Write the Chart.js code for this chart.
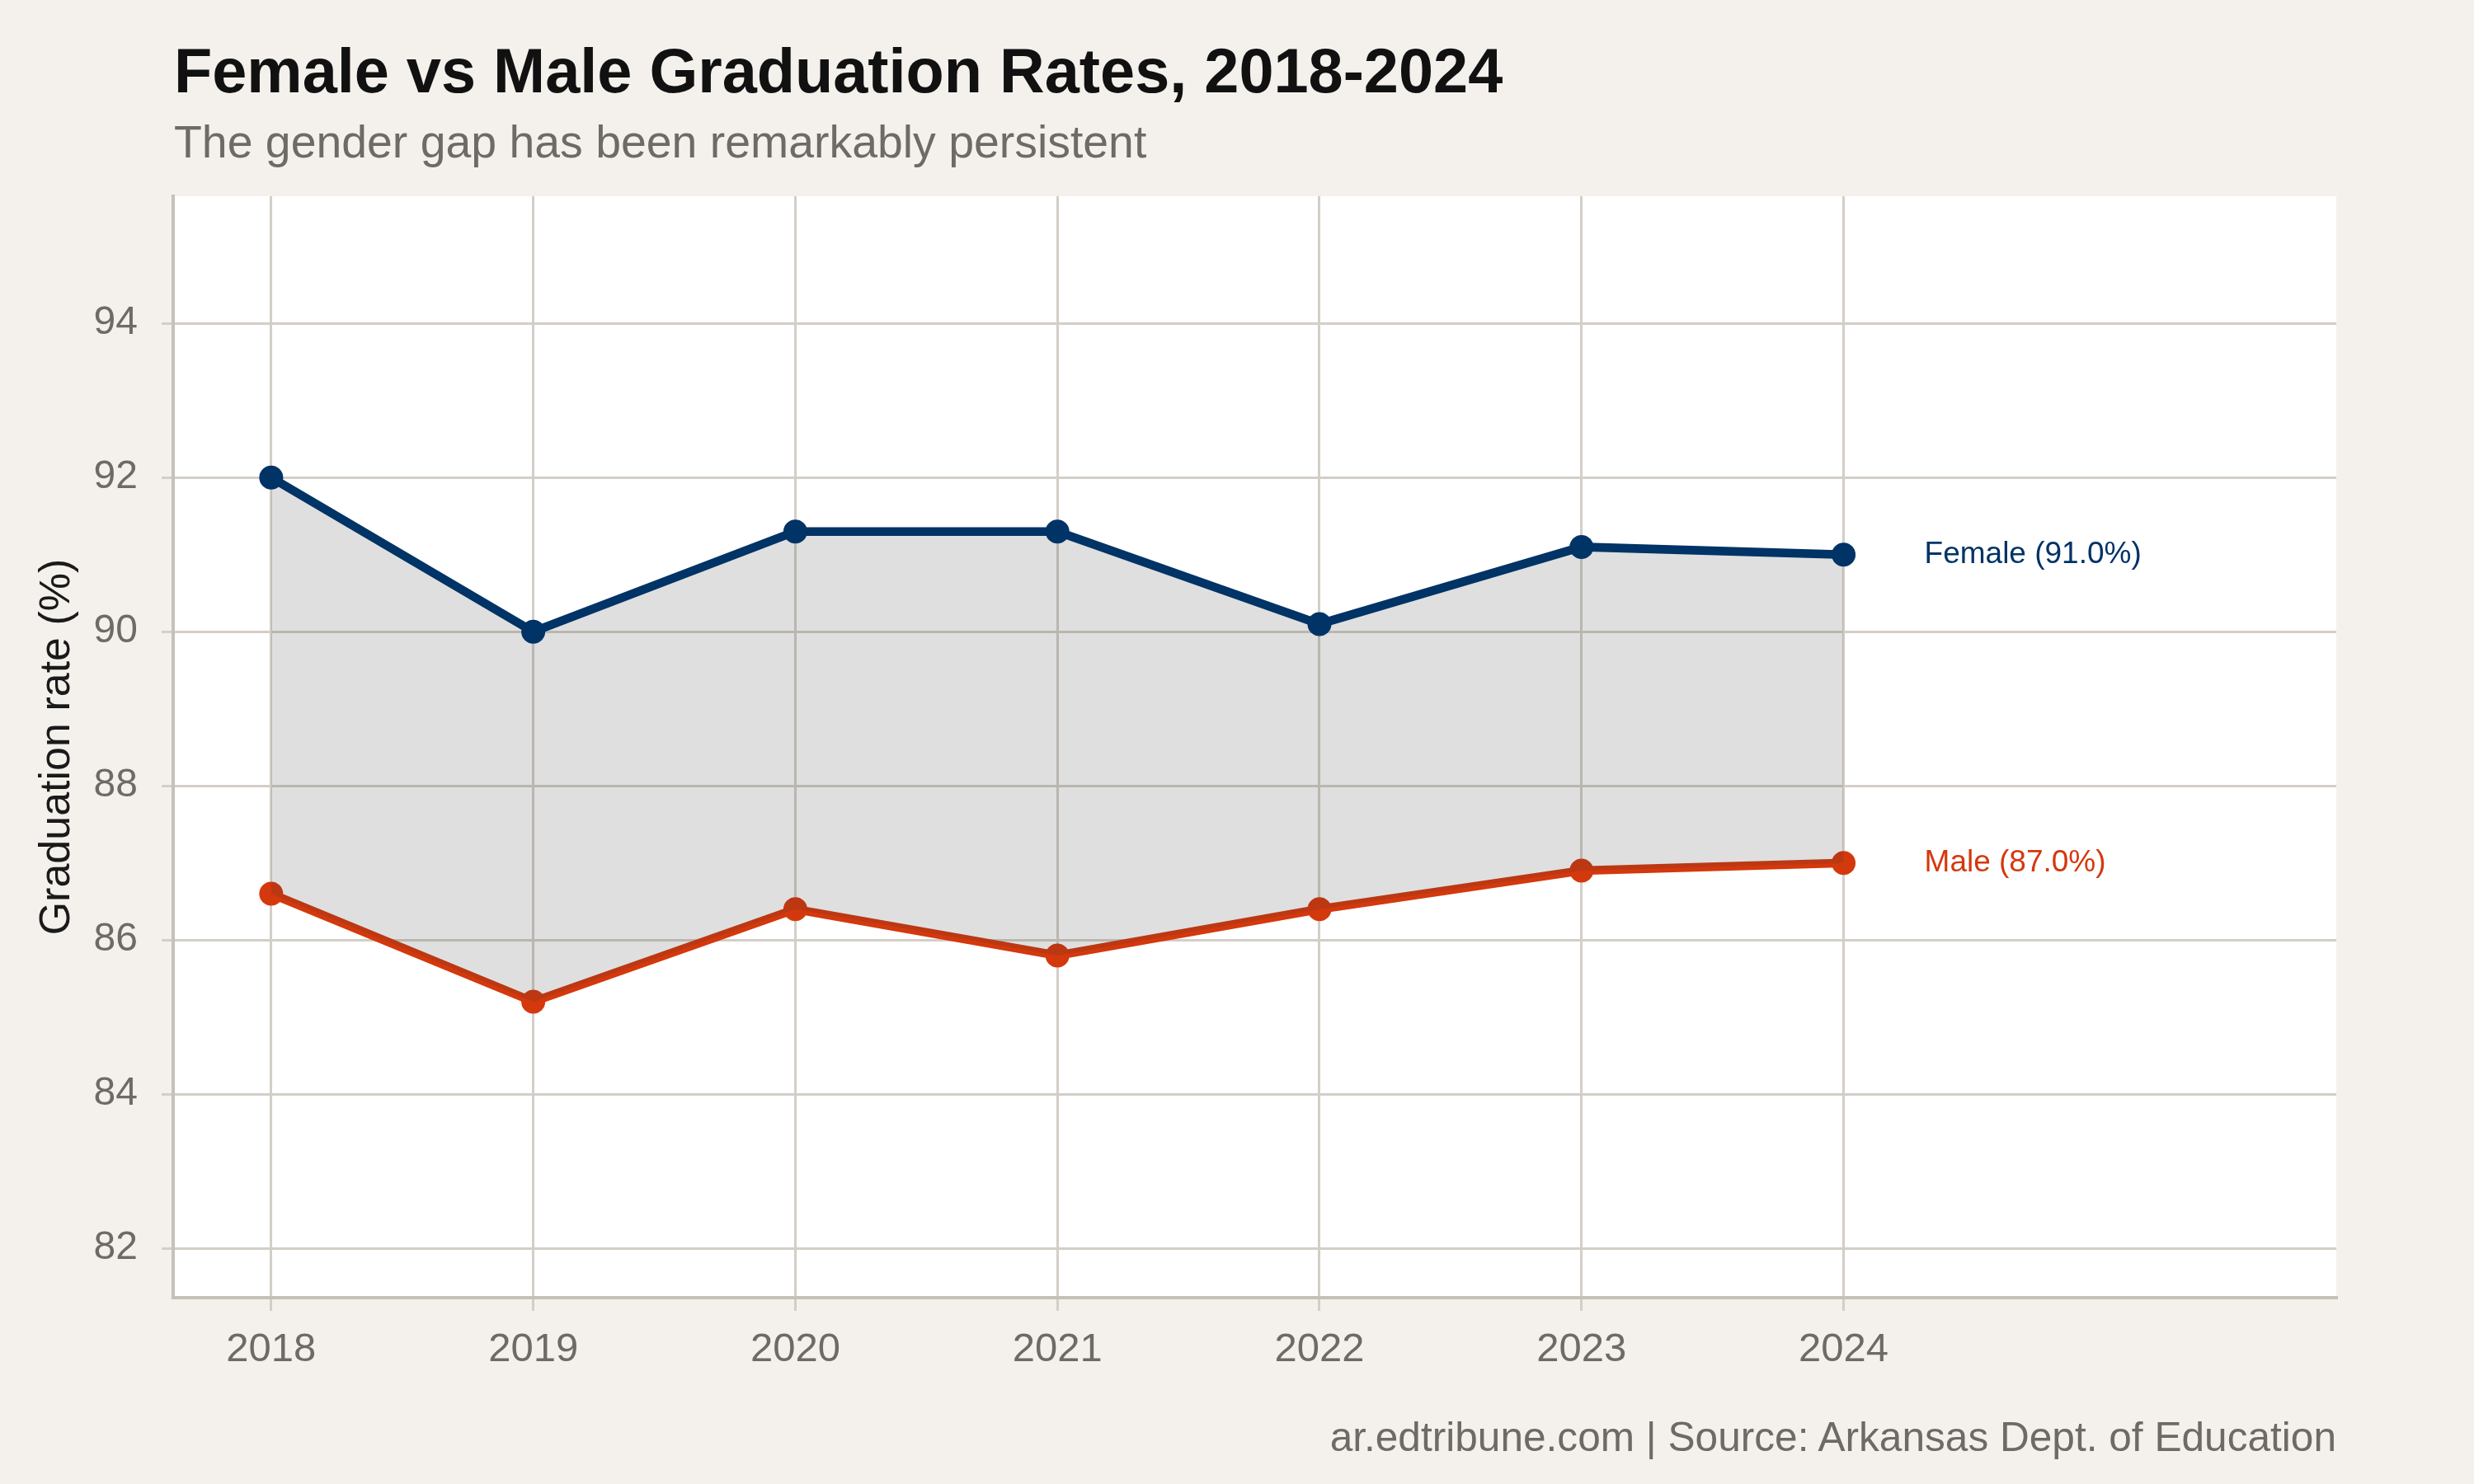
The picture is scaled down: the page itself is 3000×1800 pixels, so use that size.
<!DOCTYPE html>
<html>
<head>
<meta charset="utf-8">
<script src="https://cdn.jsdelivr.net/npm/chart.js@4.4.1/dist/chart.umd.min.js"></script>
<style>
  html, body { margin: 0; padding: 0; background: #F4F1EC; }
  body { width: 3000px; height: 1800px; position: relative; overflow: hidden; font-family: "Liberation Sans", Arial, sans-serif; }
  #chart { position: absolute; left: 0; top: 0; }
  .txt { position: absolute; line-height: 1; white-space: nowrap; }
  #title { left: 211px; top: 48px; font-size: 75.7px; font-weight: bold; color: #111; }
  #subtitle { left: 211px; top: 145px; font-size: 55.4px; color: #6E6A65; }
  #caption { right: 167px; top: 1719px; font-size: 49.6px; color: #6E6A65; }
</style>
</head>
<body>
<div id="title" class="txt">Female vs Male Graduation Rates, 2018-2024</div>
<div id="subtitle" class="txt">The gender gap has been remarkably persistent</div>
<canvas id="chart" width="3000" height="1800"></canvas>
<div id="caption" class="txt">ar.edtribune.com | Source: Arkansas Dept. of Education</div>
<script>
const years = [2018, 2019, 2020, 2021, 2022, 2023, 2024];
const femaleRates = [92.0, 90.0, 91.3, 91.3, 90.1, 91.1, 91.0];
const maleRates = [86.6, 85.2, 86.4, 85.8, 86.4, 86.9, 87.0];
const yTicks = [82, 84, 86, 88, 90, 92, 94];

const FEMALE = '#003366';
const MALE = '#D4380D';
const GRID = '#D3CEC7';
const AXIS = '#C6C0B7';
const TICK_TEXT = '#6E6A65';

const toPoints = vals => vals.map((v, i) => ({ x: years[i], y: v }));

// white panel behind the plot area
const panelBg = {
    id: 'panelBg',
    beforeDraw(chart) {
        const { ctx, chartArea: a } = chart;
        ctx.save();
        ctx.fillStyle = '#ffffff';
        ctx.fillRect(a.left, a.top, a.right - a.left, a.bottom - a.top);
        ctx.restore();
    }
};

// direct labels right of the last point
const endLabels = {
    id: 'endLabels',
    afterDatasetsDraw(chart) {
        const { ctx } = chart;
        ctx.save();
        ctx.font = '37px "Liberation Sans", Arial, sans-serif';
        ctx.textBaseline = 'middle';
        ctx.textAlign = 'left';
        chart.data.datasets.forEach((ds, i) => {
            const meta = chart.getDatasetMeta(i);
            const last = meta.data[meta.data.length - 1];
            const v = ds.data[ds.data.length - 1].y;
            ctx.fillStyle = ds.borderColor;
            ctx.fillText(`${ds.label} (${v.toFixed(1)}%)`, last.x + 98, last.y);
        });
        ctx.restore();
    }
};

new Chart(document.getElementById('chart'), {
    type: 'line',
    data: {
        datasets: [
            {
                label: 'Female',
                data: toPoints(femaleRates),
                borderColor: FEMALE,
                backgroundColor: 'rgba(58,56,54,0.16)',
                pointBackgroundColor: FEMALE,
                fill: '+1',
                borderWidth: 10.5,
                pointRadius: 14.5,
                pointBorderWidth: 0,
                tension: 0
            },
            {
                label: 'Male',
                data: toPoints(maleRates),
                borderColor: MALE,
                pointBackgroundColor: MALE,
                fill: false,
                borderWidth: 10.5,
                pointRadius: 14.5,
                pointBorderWidth: 0,
                tension: 0
            }
        ]
    },
    options: {
        responsive: false,
        animation: false,
        devicePixelRatio: 1,
        layout: { padding: { top: 238, right: 167, bottom: 0, left: 0 } },
        plugins: {
            legend: { display: false },
            tooltip: { enabled: false },
            title: { display: false }
        },
        scales: {
            x: {
                type: 'linear',
                min: 2017.626,
                max: 2025.88,
                afterBuildTicks: axis => { axis.ticks = years.map(v => ({ value: v })); },
                afterFit: axis => { axis.height = 226; },
                grid: { color: GRID, lineWidth: 3, tickLength: 16, tickColor: GRID },
                border: { display: true, color: AXIS, width: 4 },
                ticks: {
                    color: TICK_TEXT,
                    padding: 18,
                    font: { family: '"Liberation Sans", Arial, sans-serif', size: 49 },
                    callback: v => String(v),
                    maxRotation: 0
                }
            },
            y: {
                min: 81.36,
                max: 95.65,
                afterBuildTicks: axis => { axis.ticks = yTicks.map(v => ({ value: v })); },
                afterFit: axis => { axis.width = 210; },
                grid: { color: GRID, lineWidth: 3, tickLength: 14, tickColor: GRID },
                border: { display: true, color: AXIS, width: 4 },
                ticks: {
                    color: TICK_TEXT,
                    padding: 29,
                    font: { family: '"Liberation Sans", Arial, sans-serif', size: 48 }
                },
                title: {
                    display: true,
                    text: 'Graduation rate (%)',
                    color: '#1a1a1a',
                    padding: { top: 38, bottom: 0 },
                    font: { family: '"Liberation Sans", Arial, sans-serif', size: 52 }
                }
            }
        }
    },
    plugins: [panelBg, endLabels]
});
</script>
</body>
</html>
